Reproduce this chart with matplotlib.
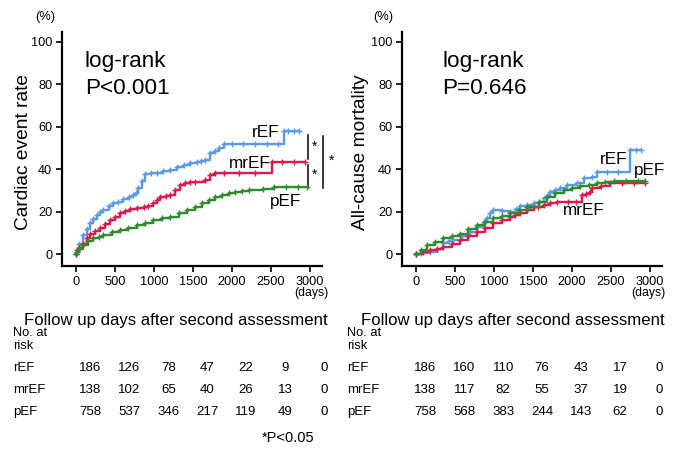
import matplotlib
matplotlib.use("Agg")
import matplotlib.pyplot as plt
from matplotlib.transforms import blended_transform_factory

plt.rcParams['font.family'] = ['Liberation Sans', 'DejaVu Sans']

# ---------------- data ----------------
groups = ["rEF", "mrEF", "pEF"]
colors = {"rEF": "#5a9be6", "mrEF": "#e0194a", "pEF": "#2e8b2e"}
xticks = [0, 500, 1000, 1500, 2000, 2500, 3000]
yticks = [0, 20, 40, 60, 80, 100]

# Left panel: cardiac event rate (%)  -- (days, %)
cardiac_rEF = [(0, 0), (9, 1.1), (40, 5), (94, 9), (140, 12), (180, 14.5), (220, 16.5), (266, 18.4),
               (310, 19.8), (352, 20.8), (420, 22.5), (480, 23.9), (540, 24.8), (609, 25.8), (680, 26.8),
               (738, 27.8), (770, 29), (802, 31), (845, 34.5), (888, 38), (960, 38.2), (1039, 38.4),
               (1120, 39), (1210, 39.6), (1300, 41), (1382, 42), (1470, 42.8), (1554, 43.5), (1610, 43.8),
               (1661, 44.3), (1725, 47.5), (1780, 48.8), (1832, 49.9), (1897, 51.7), (2000, 51.7),
               (2150, 51.7), (2300, 51.7), (2450, 51.7), (2600, 51.7), (2669, 58.2), (2720, 58.2),
               (2800, 58.2), (2862, 58.2)]
cardiac_mrEF = [(0, 0), (9, 1.9), (40, 3), (94, 5), (140, 7.5), (180, 9.7), (240, 10.8), (309, 12.1),
                (370, 14), (438, 16), (500, 17.5), (567, 19.2), (630, 20.5), (695, 21.5), (780, 21.8),
                (867, 22), (930, 22.8), (995, 23.9), (1040, 25.5), (1082, 27), (1150, 27.3), (1210, 27.8),
                (1270, 30), (1339, 32.5), (1400, 33.3), (1468, 34.1), (1532, 34.1), (1661, 34.9),
                (1725, 37.3), (1790, 38.4), (1900, 38.4), (2100, 38.4), (2300, 38.4), (2520, 43.2),
                (2650, 43.2), (2800, 43.2), (2948, 43.2)]
cardiac_pEF = [(0, 0), (9, 1.1), (40, 2.5), (94, 4.2), (160, 6), (223, 7.4), (290, 8.2), (352, 9),
               (460, 10.2), (567, 11.3), (670, 12.5), (781, 13.7), (890, 14.9), (995, 16), (1100, 16.8),
               (1210, 17.6), (1320, 19.3), (1425, 20.8), (1532, 22.3), (1620, 24), (1704, 25.5),
               (1790, 26.7), (1876, 27.8), (1960, 28.7), (2047, 29.4), (2130, 29.9), (2219, 30.2),
               (2400, 30.5), (2540, 31.8), (2700, 31.8), (2850, 31.8), (2970, 31.8)]

# Right panel: all-cause mortality (%)  -- (days, %)
mort_rEF = [(0, 0), (60, 0.5), (180, 1.2), (270, 2.5), (352, 5.3), (420, 6), (480, 6.6), (590, 8.5),
            (695, 10.5), (780, 12.8), (867, 15.2), (910, 17), (952, 19.2), (995, 20.8), (1100, 20.5),
            (1210, 20), (1280, 21.5), (1339, 22.6), (1420, 23.2), (1510, 23.9), (1580, 24.5),
            (1639, 26.3), (1690, 28), (1725, 29.4), (1790, 30.2), (1854, 31), (1940, 32.5), (2069, 33.3),
            (2155, 35.7), (2262, 36.5), (2327, 38.5), (2450, 38.5), (2600, 38.5), (2755, 49),
            (2820, 49), (2884, 49)]
mort_mrEF = [(0, 0), (90, 0.8), (180, 1.9), (270, 2.6), (352, 3.2), (460, 4.8), (567, 6.6), (670, 8.5),
             (781, 10.5), (890, 12.5), (995, 14.5), (1100, 16), (1210, 17.6), (1270, 18.5), (1339, 19.2),
             (1420, 20.8), (1510, 22.3), (1570, 22.4), (1639, 23.1), (1720, 24), (1811, 24.7),
             (1950, 24.7), (2050, 24.7), (2133, 27.8), (2190, 28.5), (2240, 29.4), (2262, 31),
             (2380, 32), (2498, 33.3), (2650, 33.3), (2800, 33.3), (2948, 33.3)]
mort_pEF = [(0, 0), (60, 1.8), (137, 4.2), (240, 5.8), (352, 7.4), (460, 8.5), (567, 9.7), (670, 11.7),
            (781, 13.7), (890, 15.3), (995, 16.8), (1100, 18), (1210, 19.2), (1320, 20.8), (1425, 22.3),
            (1468, 22.3), (1580, 24.6), (1682, 27), (1790, 28.6), (1897, 30.2), (2000, 31.1),
            (2112, 32.1), (2220, 32.7), (2327, 33.3), (2430, 34), (2541, 34.6), (2700, 34.6),
            (2850, 34.6), (2948, 34.6)]

# Numbers at risk
risk_cardiac = {"rEF": [186, 126, 78, 47, 22, 9, 0],
                "mrEF": [138, 102, 65, 40, 26, 13, 0],
                "pEF": [758, 537, 346, 217, 119, 49, 0]}
risk_mort = {"rEF": [186, 160, 110, 76, 43, 17, 0],
             "mrEF": [138, 117, 82, 55, 37, 19, 0],
             "pEF": [758, 568, 383, 244, 143, 62, 0]}

W, H = 673, 454
fig = plt.figure(figsize=(W / 100, H / 100), dpi=100)


def fx(px):
    return px / W


def fy(py):
    return 1 - py / H


def make_axes(left_px):
    ax = fig.add_axes([fx(left_px), fy(266), (322 - 62) / W, (266 - 32) / H])
    ax.set_xlim(-180, 3160)
    ax.set_ylim(-5.6, 104.7)
    for s in ("top", "right"):
        ax.spines[s].set_visible(False)
    for s in ("left", "bottom"):
        ax.spines[s].set_linewidth(1.6)
    ax.set_xticks(xticks)
    ax.set_yticks(yticks)
    ax.tick_params(axis="both", labelsize=9.2, width=1.2, length=4, direction="out", pad=3)
    return ax


def draw_curve(ax, pts, color, z):
    x = [p[0] for p in pts]
    y = [p[1] for p in pts]
    ax.step(x, y, where="post", color=color, lw=1.7, zorder=z)
    ax.plot(x, y, ls="none", marker="+", ms=4, mew=1.0, color=color, zorder=z)


# ---------- Left panel ----------
axL = make_axes(62)
draw_curve(axL, cardiac_rEF, colors["rEF"], 3)
draw_curve(axL, cardiac_mrEF, colors["mrEF"], 4)
draw_curve(axL, cardiac_pEF, colors["pEF"], 5)
axL.set_ylabel("Cardiac event rate", fontsize=13.8)
axL.yaxis.set_label_coords((32 - 62) / 260, (266 - 152) / 234)
axL.text(fx(85), fy(67), "log-rank", transform=fig.transFigure, fontsize=16.2, va="baseline", ha="left")
axL.text(fx(85), fy(94), "P<0.001", transform=fig.transFigure, fontsize=16.2, va="baseline", ha="left")
axL.text(2430, 57.1, "rEF", fontsize=12.3, ha="center", va="center")
axL.text(2237, 42.5, "mrEF", fontsize=12.3, ha="center", va="center")
axL.text(2696, 24.8, "pEF", fontsize=12.3, ha="center", va="center")
# significance brackets
axL.plot([2974, 2974], [44.8, 56.3], color="black", lw=1.1, clip_on=False)
axL.plot([2974, 2974], [31.1, 42.1], color="black", lw=1.1, clip_on=False)
axL.plot([3171, 3171], [31.1, 55.9], color="black", lw=1.1, clip_on=False)
axL.text(3060, 50.5, "*", fontsize=10, ha="center", va="center")
axL.text(3060, 37.5, "*", fontsize=10, ha="center", va="center")
axL.text(3279, 44, "*", fontsize=10, ha="center", va="center", clip_on=False)

# ---------- Right panel ----------
axR = make_axes(402)
draw_curve(axR, mort_rEF, colors["rEF"], 3)
draw_curve(axR, mort_mrEF, colors["mrEF"], 4)
draw_curve(axR, mort_pEF, colors["pEF"], 5)
axR.set_ylabel("All-cause mortality", fontsize=13.8)
axR.yaxis.set_label_coords((369 - 402) / 260, (266 - 152) / 234)
axR.text(fx(442), fy(67), "log-rank", transform=fig.transFigure, fontsize=16.2, va="baseline", ha="left")
axR.text(fx(442), fy(94), "P=0.646", transform=fig.transFigure, fontsize=16.2, va="baseline", ha="left")
axR.text(2537, 44.5, "rEF", fontsize=12.3, ha="center", va="center")
axR.text(2995, 39.5, "pEF", fontsize=12.3, ha="center", va="center")
axR.text(2151, 20.6, "mrEF", fontsize=12.3, ha="center", va="center")

# ---------- surrounding text ----------
for xpx in (45, 383):
    fig.text(fx(xpx), fy(17), "(%)", fontsize=9.3, ha="center", va="center")
for xpx in (311, 648):
    fig.text(fx(xpx), fy(293), "(days)", fontsize=8.8, ha="center", va="center")
for xpx in (176, 513):
    fig.text(fx(xpx), fy(321), "Follow up days after second assessment",
             fontsize=12.1, ha="center", va="center")


def risk_table(ax, left_px, risk, offset):
    fig.text(fx(left_px), fy(333), "No. at", fontsize=9.3, ha="left", va="center")
    fig.text(fx(left_px), fy(346), "risk", fontsize=9.3, ha="left", va="center")
    tr = blended_transform_factory(ax.transData, fig.transFigure)
    for g, ypx in zip(groups, (368, 390, 412)):
        fig.text(fx(left_px), fy(ypx), g, fontsize=9.5, ha="left", va="center")
        for xv, n in zip(xticks, risk[g]):
            ax.text(xv + offset, fy(ypx), str(n), transform=tr, fontsize=9.5,
                    ha="center", va="center", clip_on=False)


risk_table(axL, 13, risk_cardiac, 185)
risk_table(axR, 347, risk_mort, 120)

fig.text(fx(288), fy(438), "*P<0.05", fontsize=10.5, ha="center", va="center")

fig.savefig("out.png", dpi=100)
